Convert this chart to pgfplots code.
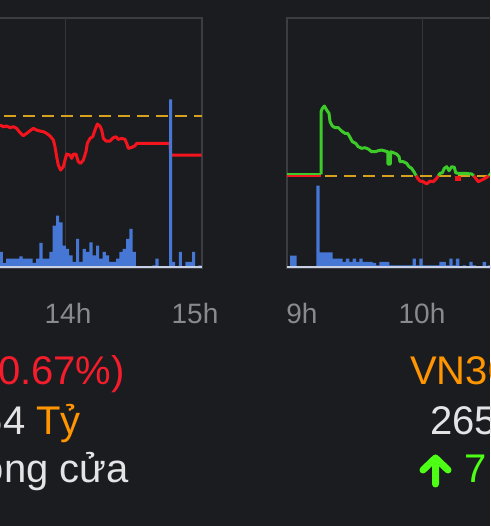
\documentclass[border=0pt]{standalone}
\usepackage{pgfplots}
\pgfplotsset{compat=1.18}
\usepackage{fontspec}
\setmainfont{Liberation Sans}

\definecolor{bg}{HTML}{1B1C20}
\definecolor{framec}{HTML}{3C3D41}
\definecolor{gridc}{HTML}{35363A}
\definecolor{basec}{HTML}{C8D0E6}
\definecolor{upc}{HTML}{3CCB28}
\definecolor{downc}{HTML}{F4141E}
\definecolor{refc}{HTML}{D6A11C}
\definecolor{volc}{HTML}{4677D4}
\definecolor{tickc}{HTML}{8A8A8E}
\definecolor{txt}{HTML}{E4E4E6}
\definecolor{orangec}{HTML}{FF9500}
\definecolor{redtxt}{HTML}{F51C2C}
\definecolor{greentxt}{HTML}{4CFF14}

\pgfplotsset{
  chartbase/.style={
    scale only axis,
    height=250pt,
    ymajorticks=false,
    major tick length=0pt,
    tick style={draw=none},
    axis line style={draw=framec, line width=1.5pt},
    xticklabel style={font=\fontsize{28}{30}\selectfont, text=tickc, anchor=base, yshift=-56pt},
    extra x tick labels={},
    extra x tick style={grid=major, major grid style={draw=gridc, line width=1pt}},
  },
  volbase/.style={
    scale only axis,
    height=250pt,
    axis lines=none,
    ymin=0, ymax=50,
    ybar, bar shift=0pt,
  },
}

\begin{document}
\begin{tikzpicture}[x=1pt,y=1pt]
\useasboundingbox (0,0) rectangle (490,526);
\clip (0,0) rectangle (490,526);
\fill[bg] (0,0) rectangle (490,526);

% ---------- left chart (previous session, 13h-15h) ----------
\begin{axis}[chartbase,
  at={(-72pt,258pt)}, anchor=south west, width=274pt,
  xmin=13, xmax=15, ymin=-2.61, ymax=1.684,
  xtick={14.022,14.949}, xticklabels={14h,15h},
  extra x ticks={14},
]
\addplot[refc, line width=2pt, dash pattern=on 12pt off 7pt] coordinates {(13,0) (15,0)};
\addplot[downc, line width=3pt, line join=round] coordinates {
(13.526,-0.155) (13.550,-0.183) (13.574,-0.172) (13.599,-0.200) (13.623,-0.183)
(13.647,-0.212) (13.672,-0.286) (13.696,-0.338) (13.720,-0.298) (13.745,-0.252)
(13.769,-0.212) (13.793,-0.241) (13.818,-0.258) (13.842,-0.269) (13.866,-0.298)
(13.891,-0.344) (13.915,-0.412) (13.927,-0.527) (13.939,-0.699) (13.951,-0.842)
(13.968,-0.928) (13.988,-0.871) (14.000,-0.756) (14.012,-0.653) (14.036,-0.670)
(14.049,-0.727) (14.061,-0.653) (14.080,-0.653) (14.097,-0.785) (14.114,-0.813)
(14.134,-0.756) (14.153,-0.613) (14.163,-0.470) (14.182,-0.384) (14.202,-0.355)
(14.219,-0.241) (14.236,-0.137) (14.255,-0.172) (14.268,-0.241) (14.280,-0.384)
(14.299,-0.430) (14.328,-0.430) (14.353,-0.372) (14.372,-0.355) (14.389,-0.401)
(14.414,-0.384) (14.438,-0.401) (14.450,-0.470) (14.462,-0.556) (14.487,-0.538)
(14.511,-0.510) (14.523,-0.470) (14.766,-0.470) (14.771,-0.670) (14.998,-0.670)
};
\end{axis}
\begin{axis}[volbase,
  at={(-72pt,258pt)}, anchor=south west, width=274pt,
  xmin=13, xmax=15, bar width=0.023,
]
\addplot[fill=volc, draw=none] coordinates {
(13.535,3.2) (13.557,1.0) (13.582,1.87) (13.606,1.87) (13.630,1.87) (13.655,1.87)
(13.679,2.33) (13.703,1.87) (13.727,1.87) (13.752,1.87) (13.776,1.0) (13.800,1.87)
(13.825,5.0) (13.849,1.87) (13.873,1.87) (13.898,3.2) (13.922,8.47) (13.946,10.47)
(13.971,9.13) (13.995,4.47) (14.019,3.8) (14.044,2.53) (14.068,1.2) (14.092,5.8)
(14.117,1.2) (14.141,3.8) (14.165,3.2) (14.190,5.13) (14.214,2.53) (14.238,4.47)
(14.263,1.87) (14.287,3.2) (14.311,2.53) (14.336,1.2) (14.360,1.2) (14.384,1.87)
(14.409,3.2) (14.433,3.8) (14.457,5.8) (14.482,7.8) (14.506,3.2) (14.530,0.33)
(14.650,0.53) (14.672,1.87) (14.771,33.7) (14.793,1.2) (14.842,3.2) (14.891,1.2)
(14.915,1.2) (14.939,3.2) (14.985,0.53)
};
\draw[basec, line width=3.5pt] (rel axis cs:0,0) -- (rel axis cs:1,0);
\end{axis}

% ---------- right chart (current session, from 9h) ----------
\begin{axis}[chartbase,
  at={(287pt,258pt)}, anchor=south west, width=337.5pt,
  xmin=9, xmax=11.5, ymin=-1.586, ymax=2.71,
  xtick={9.111,10}, xticklabels={9h,10h},
  extra x ticks={10},
]
\addplot[refc, line width=2pt, dash pattern=on 12pt off 7pt] coordinates {(9,0) (11.5,0)};
\addplot[downc, line width=2pt] coordinates {(9.0,0) (9.252,0)};
\addplot[upc, line width=1.2pt] coordinates {(9.0,0.028) (9.252,0.028)};
% above reference
\addplot[upc, line width=3pt, line join=round] coordinates {
(9.252,0.023) (9.252,1.100) (9.262,1.157) (9.277,1.197) (9.294,1.128) (9.311,1.071)
(9.319,0.928) (9.336,0.853) (9.356,0.825) (9.380,0.825) (9.405,0.767) (9.430,0.727)
(9.449,0.727) (9.467,0.659) (9.484,0.584) (9.509,0.556) (9.528,0.498) (9.553,0.470)
(9.578,0.481) (9.602,0.458) (9.627,0.412) (9.652,0.412) (9.677,0.430) (9.701,0.441)
(9.726,0.424) (9.746,0.412) (9.748,0.200) (9.765,0.200) (9.768,0.412) (9.788,0.395)
(9.812,0.372) (9.830,0.326) (9.837,0.241) (9.862,0.241) (9.886,0.212) (9.904,0.155)
(9.923,0.126) (9.943,0.057) (9.956,0.000)
};
\addplot[downc, line width=3pt, line join=round] coordinates {
(9.956,0) (9.968,-0.046) (9.985,-0.092) (10.010,-0.103) (10.035,-0.143)
(10.059,-0.092) (10.084,-0.103) (10.109,-0.046) (10.121,0)
};
\addplot[upc, line width=3pt, line join=round] coordinates {
(10.121,0) (10.133,0.040) (10.151,0.052) (10.165,0.126) (10.183,0.155) (10.200,0.086)
(10.220,0.155) (10.240,0.143) (10.249,0.052) (10.269,0.040) (10.319,0.040)
(10.368,0.029) (10.383,0)
};
\addplot[downc, line width=3pt] coordinates {(10.257,0) (10.257,-0.07) (10.281,-0.07) (10.281,0)};
\addplot[downc, line width=3pt, line join=round] coordinates {
(10.383,0) (10.398,-0.046) (10.417,-0.103) (10.442,-0.074) (10.467,-0.046)
(10.486,-0.017) (10.496,0)
};
\addplot[upc, line width=3pt] coordinates {(10.496,0) (10.516,0.052) (10.55,0.05)};
\end{axis}
\begin{axis}[volbase,
  at={(287pt,258pt)}, anchor=south west, width=337.5pt,
  xmin=9, xmax=11.5, bar width=0.0245,
]
\addplot[fill=volc, draw=none] coordinates {
(9.035,2.47) (9.059,2.47) (9.230,16.47) (9.252,3.13) (9.277,3.13) (9.301,3.13)
(9.326,3.13) (9.351,1.87) (9.375,1.87) (9.400,1.87) (9.425,1.2) (9.449,1.87)
(9.474,1.2) (9.499,1.87) (9.523,1.2) (9.548,1.87) (9.573,1.2) (9.598,1.2)
(9.622,1.2) (9.647,1.0) (9.672,0.53) (9.696,1.2) (9.721,1.2) (9.746,1.2)
(9.770,0.53) (9.795,0.53) (9.820,0.53) (9.844,0.53) (9.869,0.53) (9.894,0.53)
(9.919,0.53) (9.943,1.87) (9.968,0.53) (9.993,1.87) (10.017,0.53) (10.042,0.53)
(10.067,0.53) (10.091,0.53) (10.116,0.53) (10.141,1.2) (10.165,1.2) (10.190,0.53)
(10.215,1.87) (10.240,0.53) (10.264,1.87) (10.314,0.53) (10.363,1.2) (10.388,0.53)
(10.462,1.2) (10.499,0.53)
};
\draw[basec, line width=3.5pt] (rel axis cs:0,0) -- (rel axis cs:1,0);
\end{axis}

% ---------- text rows under the charts ----------
\begin{scope}[every node/.style={inner sep=0pt, font=\fontsize{40}{42}\selectfont}]
\node[anchor=base east, text=redtxt] at (125,141) {(-0.67\%)};
\node[anchor=base west, text=orangec] at (410,141) {VN30};
\node[anchor=base east] at (81,91) {\textcolor{txt}{64} \textcolor{orangec}{Tỷ}};
\node[anchor=base west, text=txt] at (430,91) {265};
\node[anchor=base east, text=txt] at (129,43) {Đóng cửa};
\node[anchor=base west, text=greentxt] at (464,43) {7};
\end{scope}
\draw[greentxt, line width=7pt, line cap=round, line join=round]
  (435.5,42) -- (435.5,66) (423,56) -- (435.5,68) -- (448,56);
\end{tikzpicture}
\end{document}
